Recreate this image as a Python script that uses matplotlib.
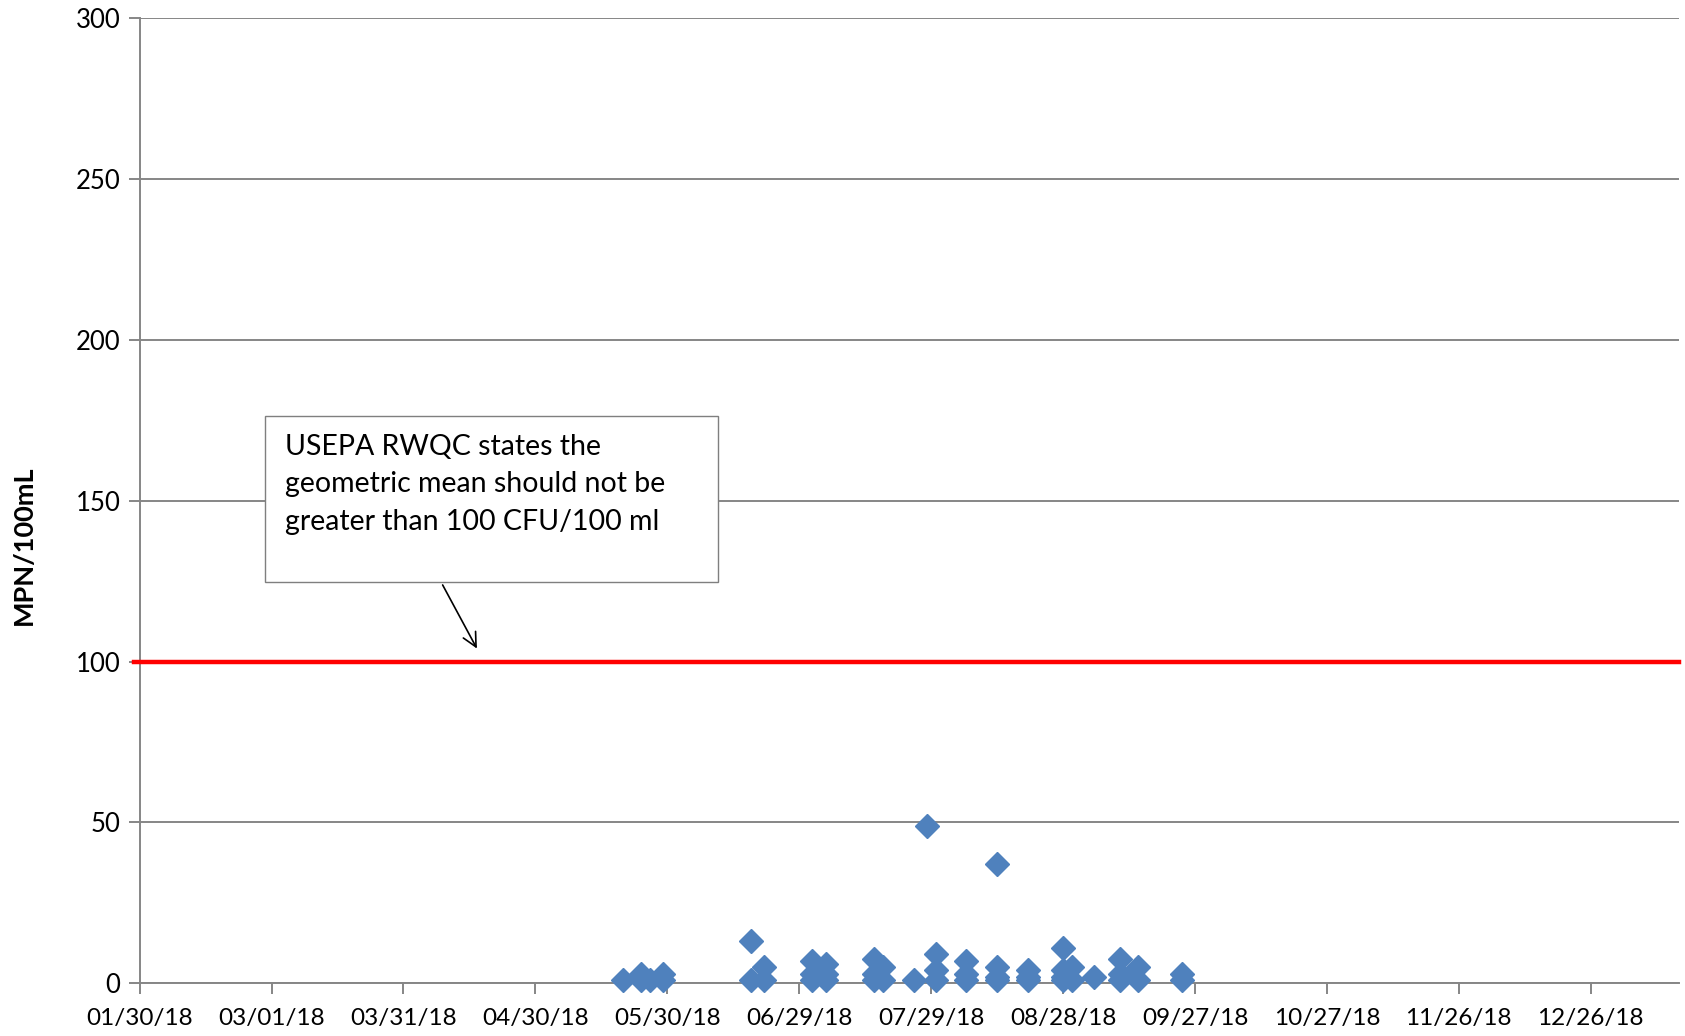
import numpy as np
import matplotlib
matplotlib.use("Agg")
import matplotlib.pyplot as plt
import matplotlib.dates as mdates
from matplotlib.patches import Rectangle

plt.rcParams['font.family'] = ['Lato', 'DejaVu Sans']

# sample dates and results (MPN/100mL)
sample_dates = [
    "2018-05-20",
    "2018-05-24", "2018-05-24",
    "2018-05-26",
    "2018-05-29", "2018-05-29",
    "2018-06-18", "2018-06-18",
    "2018-06-21", "2018-06-21",
    "2018-07-02", "2018-07-02", "2018-07-02",
    "2018-07-05", "2018-07-05", "2018-07-05",
    "2018-07-16", "2018-07-16", "2018-07-16",
    "2018-07-18", "2018-07-18",
    "2018-07-25",
    "2018-07-28",
    "2018-07-30", "2018-07-30", "2018-07-30",
    "2018-08-06", "2018-08-06", "2018-08-06",
    "2018-08-13", "2018-08-13", "2018-08-13", "2018-08-13",
    "2018-08-20", "2018-08-20", "2018-08-20",
    "2018-08-28", "2018-08-28", "2018-08-28", "2018-08-28",
    "2018-08-30", "2018-08-30",
    "2018-09-04",
    "2018-09-10", "2018-09-10", "2018-09-10",
    "2018-09-14", "2018-09-14",
    "2018-09-24", "2018-09-24",
]
sample_values = [
    1,
    3, 1,
    1,
    3, 1,
    13, 1,
    5, 1,
    7, 3, 1,
    6, 3, 1,
    7.5, 3, 1,
    5, 1,
    1,
    49,
    9, 4, 1,
    7, 3, 1,
    37, 5, 2, 1,
    4, 2, 1,
    11, 4, 2, 1,
    5, 1,
    2,
    7.5, 3, 1,
    5, 1,
    3, 1,
]
criterion = 100
tick_dates = ["2018-01-30", "2018-03-01", "2018-03-31", "2018-04-30", "2018-05-30",
              "2018-06-29", "2018-07-29", "2018-08-28", "2018-09-27", "2018-10-27",
              "2018-11-26", "2018-12-26"]
y_ticks = [0, 50, 100, 150, 200, 250, 300]
note = "USEPA RWQC states the\ngeometric mean should not be\ngreater than 100 CFU/100 ml"

dates = np.array(sample_dates, dtype="datetime64[D]")
ticks = np.array(tick_dates, dtype="datetime64[D]")
x0 = mdates.date2num(np.datetime64("2018-01-30"))
x1 = mdates.date2num(np.datetime64("2019-01-15"))

fig = plt.figure(figsize=(16.85, 10.36), dpi=100)
ax = fig.add_axes([0.0829, 0.0509, 0.9133, 0.9314])

grid_c = "#868686"
ax.xaxis_date()
ax.set_xlim(x0, x1)
ax.set_ylim(0, 300)
ax.set_yticks(y_ticks)
ax.set_xticks(mdates.date2num(ticks))
ax.xaxis.set_major_formatter(mdates.DateFormatter("%m/%d/%y"))
ax.yaxis.grid(True, color=grid_c, lw=1.4)
ax.set_axisbelow(True)
for s in ["top", "right"]:
    ax.spines[s].set_visible(False)
for s in ["left", "bottom"]:
    ax.spines[s].set_color(grid_c)
    ax.spines[s].set_linewidth(1.4)
ax.tick_params(axis="both", color=grid_c, width=1.4, length=8, labelsize=17.5, pad=6)
ax.tick_params(axis="x", pad=10)
ax.tick_params(axis="y", labelsize=18.5)
fig.text(0.014, 0.474, "MPN/100mL", rotation=90, fontsize=19.5, fontweight="bold",
         ha="center", va="center")

# criterion line
ax.axhline(criterion, xmin=-0.004, xmax=1, color="#FF0000", lw=3.2, clip_on=False, zorder=3)

ax.plot(mdates.date2num(dates), sample_values, ls="none", marker="D", ms=12,
        color="#4F81BD", mec="#4F81BD", zorder=4, clip_on=False)

# callout box with arrow (x in days after the first tick)
ax.add_patch(Rectangle((x0 + 28.6, 124.6), 131.6 - 28.6, 176.4 - 124.6,
                       facecolor="white", edgecolor="#7f7f7f", lw=1.0, zorder=5))
ax.text(x0 + 33, 170.8, note, fontsize=20.5, va="top", ha="left",
        linespacing=1.55, zorder=6)
ax.annotate("", xy=(x0 + 77, 103.3), xytext=(x0 + 68.6, 124.6),
            arrowprops=dict(arrowstyle="->", color="black", lw=1.2,
                            mutation_scale=25), zorder=6)

fig.savefig("out.png", dpi=100)
